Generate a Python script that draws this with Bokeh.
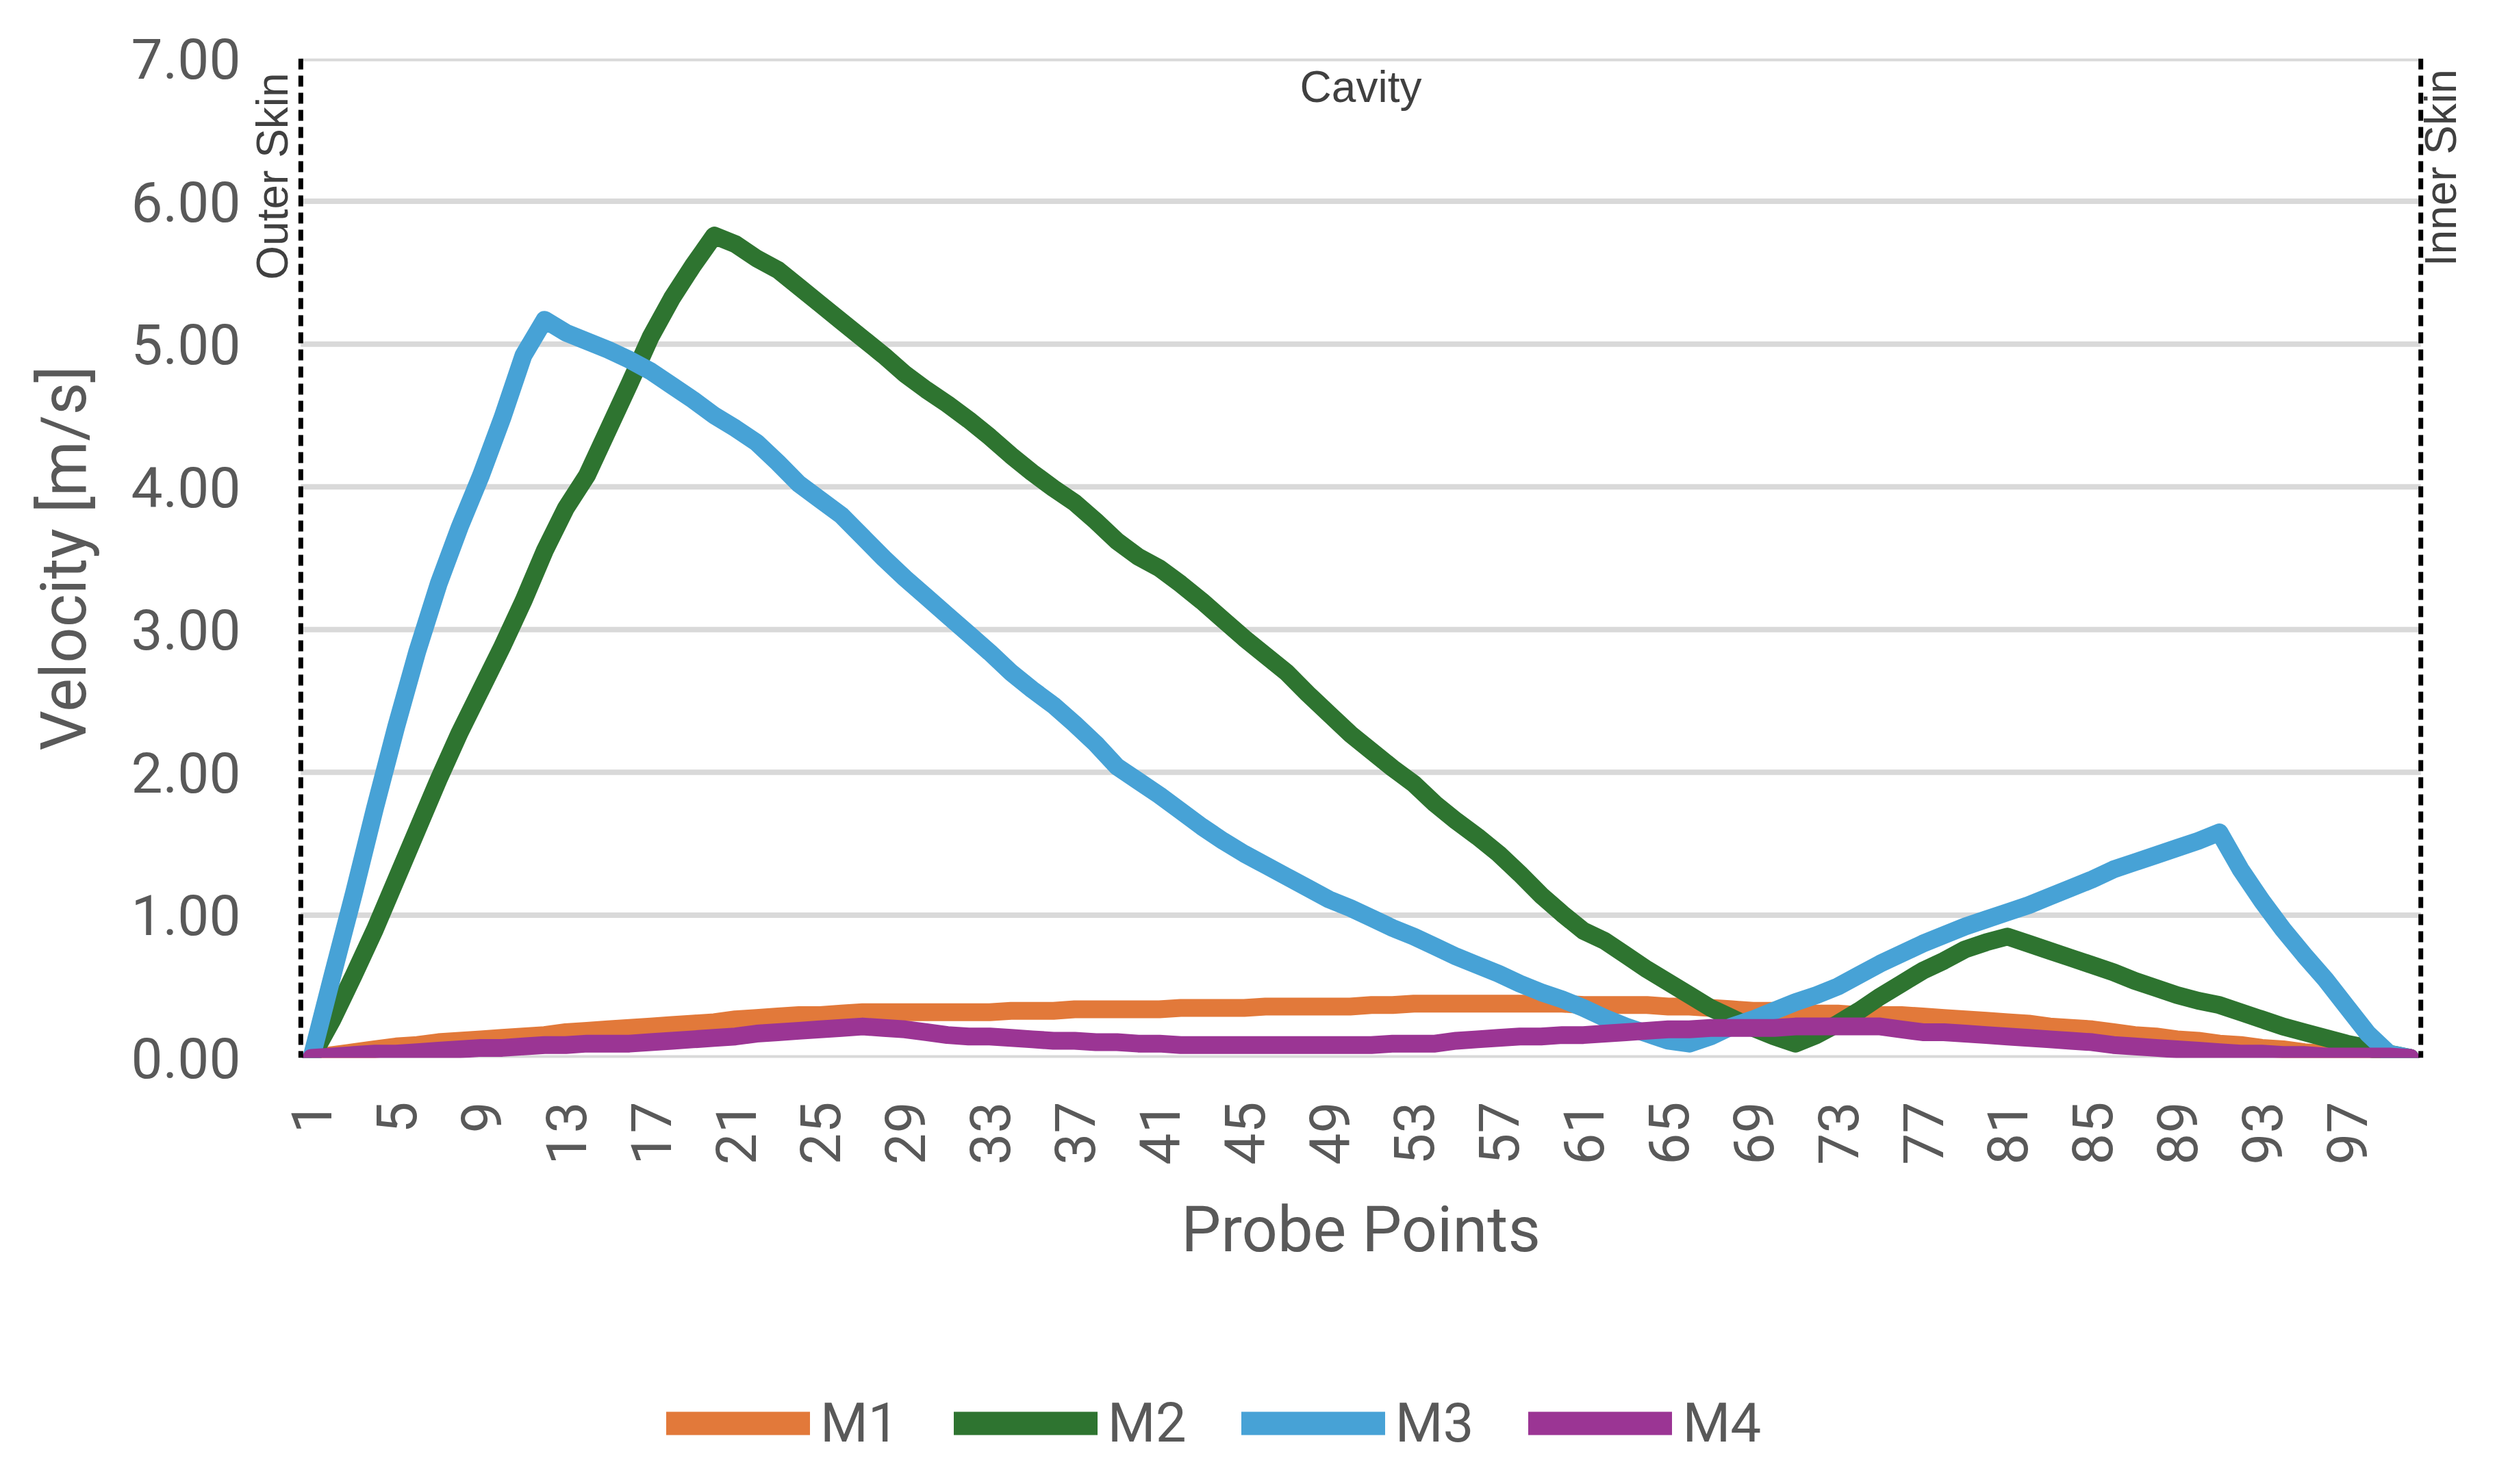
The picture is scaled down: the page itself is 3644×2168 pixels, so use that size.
import math
from bokeh.plotting import figure
from bokeh.layouts import column
from bokeh.models import (Range1d, FixedTicker, Span, Label, Legend, LegendItem,
                          NumeralTickFormatter)
from bokeh.embed import file_html
from bokeh.resources import INLINE

points = list(range(1, 101))

m1 = [0.00, 0.02, 0.04, 0.06, 0.08, 0.09, 0.11, 0.12, 0.13, 0.14,
      0.15, 0.16, 0.18, 0.19, 0.20, 0.21, 0.22, 0.23, 0.24, 0.25,
      0.27, 0.28, 0.29, 0.30, 0.30, 0.31, 0.32, 0.32, 0.32, 0.32,
      0.32, 0.32, 0.32, 0.33, 0.33, 0.33, 0.34, 0.34, 0.34, 0.34,
      0.34, 0.35, 0.35, 0.35, 0.35, 0.36, 0.36, 0.36, 0.36, 0.36,
      0.37, 0.37, 0.38, 0.38, 0.38, 0.38, 0.38, 0.38, 0.38, 0.38,
      0.37, 0.37, 0.37, 0.37, 0.36, 0.36, 0.35, 0.34, 0.33, 0.33,
      0.32, 0.31, 0.31, 0.30, 0.30, 0.30, 0.29, 0.28, 0.27, 0.26,
      0.25, 0.24, 0.22, 0.21, 0.20, 0.18, 0.16, 0.15, 0.13, 0.12,
      0.10, 0.09, 0.07, 0.06, 0.04, 0.03, 0.02, 0.01, 0.01, 0.00]

m2 = [0.00, 0.27, 0.58, 0.90, 1.25, 1.60, 1.95, 2.28, 2.58, 2.88,
      3.20, 3.55, 3.85, 4.08, 4.40, 4.72, 5.05, 5.32, 5.55, 5.76,
      5.70, 5.60, 5.52, 5.40, 5.28, 5.16, 5.04, 4.92, 4.79, 4.68,
      4.58, 4.47, 4.35, 4.22, 4.10, 3.99, 3.89, 3.76, 3.62, 3.51,
      3.43, 3.32, 3.20, 3.07, 2.94, 2.82, 2.70, 2.55, 2.41, 2.27,
      2.15, 2.03, 1.92, 1.78, 1.66, 1.55, 1.43, 1.29, 1.14, 1.01,
      0.89, 0.82, 0.72, 0.62, 0.53, 0.44, 0.35, 0.28, 0.21, 0.15,
      0.10, 0.16, 0.24, 0.33, 0.43, 0.52, 0.61, 0.68, 0.76, 0.81,
      0.85, 0.80, 0.75, 0.70, 0.65, 0.60, 0.54, 0.49, 0.44, 0.40,
      0.37, 0.32, 0.27, 0.22, 0.18, 0.14, 0.10, 0.07, 0.03, 0.00]

m3 = [0.00, 0.58, 1.15, 1.75, 2.32, 2.85, 3.32, 3.72, 4.08, 4.48,
      4.92, 5.17, 5.08, 5.02, 4.96, 4.89, 4.81, 4.71, 4.61, 4.50,
      4.41, 4.31, 4.17, 4.02, 3.91, 3.80, 3.65, 3.50, 3.36, 3.23,
      3.10, 2.97, 2.84, 2.70, 2.58, 2.47, 2.34, 2.20, 2.04, 1.94,
      1.84, 1.73, 1.62, 1.52, 1.43, 1.35, 1.27, 1.19, 1.11, 1.05,
      0.98, 0.91, 0.85, 0.78, 0.71, 0.65, 0.59, 0.52, 0.46, 0.41,
      0.35, 0.28, 0.22, 0.17, 0.12, 0.10, 0.15, 0.22, 0.27, 0.33,
      0.39, 0.44, 0.50, 0.58, 0.66, 0.73, 0.80, 0.86, 0.92, 0.97,
      1.02, 1.07, 1.13, 1.19, 1.25, 1.32, 1.37, 1.42, 1.47, 1.52,
      1.58, 1.32, 1.10, 0.90, 0.72, 0.55, 0.36, 0.17, 0.03, 0.00]

m4 = [0.00, 0.01, 0.02, 0.03, 0.03, 0.04, 0.05, 0.06, 0.07, 0.07,
      0.08, 0.09, 0.09, 0.10, 0.10, 0.10, 0.11, 0.12, 0.13, 0.14,
      0.15, 0.17, 0.18, 0.19, 0.20, 0.21, 0.22, 0.21, 0.20, 0.18,
      0.16, 0.15, 0.15, 0.14, 0.13, 0.12, 0.12, 0.11, 0.11, 0.10,
      0.10, 0.09, 0.09, 0.09, 0.09, 0.09, 0.09, 0.09, 0.09, 0.09,
      0.09, 0.10, 0.10, 0.10, 0.12, 0.13, 0.14, 0.15, 0.15, 0.16,
      0.16, 0.17, 0.18, 0.19, 0.20, 0.20, 0.21, 0.21, 0.21, 0.21,
      0.22, 0.22, 0.22, 0.22, 0.22, 0.20, 0.18, 0.18, 0.17, 0.16,
      0.15, 0.14, 0.13, 0.12, 0.11, 0.09, 0.08, 0.07, 0.06, 0.05,
      0.04, 0.03, 0.03, 0.02, 0.02, 0.01, 0.01, 0.01, 0.01, 0.00]

series_names = ["M1", "M2", "M3", "M4"]
series_colors = ["#E2793A", "#2E7430", "#47A2D6", "#9B3594"]
x_tick_values = list(range(1, 101, 4))
y_tick_values = [0, 1, 2, 3, 4, 5, 6, 7]
region_labels = ["Outer Skin", "Cavity", "Inner Skin"]

FONT = "Roboto"
GRAY = "#595959"
LINE_W = 26

# category axis: each probe point sits in the middle of its slot, the plot
# area spans from half a slot before the first to half a slot after the last
x_lo = points[0] - 0.5
x_hi = points[-1] + 0.5

# frame widened a little beyond the plot area so the rotated skin labels just
# outside the dashed boundary lines are not clipped
p = figure(frame_width=3240, frame_height=1460, output_backend="svg",
           toolbar_location=None,
           x_range=Range1d(x_lo - 2.32, x_hi + 2.32), y_range=Range1d(0, 7),
           min_border_left=367, min_border_right=21, min_border_top=85,
           min_border_bottom=330)
p.outline_line_color = None
p.background_fill_color = "white"
p.border_fill_color = "white"

# horizontal gridlines across the plot area
p.segment(x0=[x_lo] * len(y_tick_values), x1=[x_hi] * len(y_tick_values),
          y0=y_tick_values, y1=y_tick_values, line_color="#D9D9D9", line_width=8)

for name, col, vals in zip(series_names, series_colors, [m1, m2, m3, m4]):
    p.line(points, vals, line_color=col, line_width=LINE_W,
           line_join="round", line_cap="round")

# axes
p.xaxis.ticker = FixedTicker(ticks=x_tick_values)
p.yaxis.ticker = FixedTicker(ticks=y_tick_values)
p.yaxis.formatter = NumeralTickFormatter(format="0.00")
for ax in (p.xaxis[0], p.yaxis[0]):
    ax.axis_line_color = None
    ax.major_tick_line_color = None
    ax.minor_tick_line_color = None
    ax.major_tick_out = 0
    ax.major_tick_in = 0
    ax.major_label_text_font = FONT
    ax.major_label_text_font_size = "82px"
    ax.major_label_text_color = GRAY
    ax.axis_label_text_font = FONT
    ax.axis_label_text_font_size = "92px"
    ax.axis_label_text_color = GRAY
    ax.axis_label_text_font_style = "normal"
p.xaxis.axis_label = "Probe Points"
p.yaxis.axis_label = "Velocity [m/s]"
p.xaxis.major_label_orientation = math.pi / 2
p.xaxis.major_label_standoff = 64
p.yaxis.major_label_standoff = 16
p.xaxis.axis_label_standoff = 38
p.yaxis.axis_label_standoff = 42

p.xgrid.grid_line_color = None
p.ygrid.grid_line_color = None

# boundary lines (outer skin / inner skin)
for loc in (x_lo, x_hi):
    p.add_layout(Span(location=loc, dimension="height", line_color="black",
                      line_dash="16 9", line_width=7))

ann_font = "Liberation Sans"
p.add_layout(Label(x=(x_lo + x_hi) / 2, y=6.80, text=region_labels[1],
                   text_align="center", text_baseline="middle", text_font=ann_font,
                   text_font_size="64px", text_color="#404040"))
p.add_layout(Label(x=x_lo, y=6.90, x_offset=-41, text=region_labels[0],
                   angle=math.pi / 2, text_align="right", text_baseline="alphabetic",
                   text_font=ann_font, text_font_size="64px", text_color="#404040"))
p.add_layout(Label(x=x_hi, y=6.925, x_offset=29, text=region_labels[2],
                   angle=math.pi / 2, text_align="right", text_baseline="alphabetic",
                   text_font=ann_font, text_font_size="64px", text_color="#404040"))

# legend strip under the chart (its proxy lines lie outside its own view)
pl = figure(frame_width=3628, frame_height=277, output_backend="svg",
            toolbar_location=None, x_axis_type=None, y_axis_type=None,
            x_range=Range1d(-2, -1), y_range=Range1d(0, 1), min_border=0)
pl.outline_line_color = None
pl.grid.visible = False
items = []
for name, col, vals in zip(series_names, series_colors, [m1, m2, m3, m4]):
    r = pl.line(points, vals, line_color=col, line_width=34, line_cap="round")
    items.append(LegendItem(label=name, renderers=[r]))
legend = Legend(items=items, orientation="horizontal", location=(973, 26),
                glyph_width=210, glyph_height=80, label_height=80,
                label_standoff=15, spacing=80, padding=0, margin=0,
                label_text_font=FONT, label_text_font_size="80px",
                label_text_color=GRAY, background_fill_alpha=0,
                border_line_color=None)
pl.add_layout(legend)

page = column(p, pl, spacing=0)
open("out.html", "w").write(file_html(page, INLINE))
